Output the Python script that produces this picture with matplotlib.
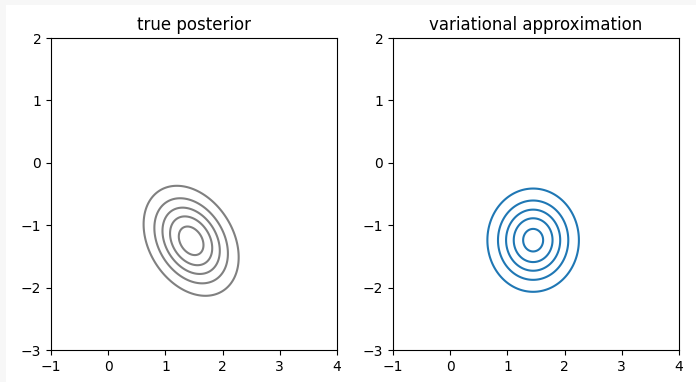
import numpy as np
import matplotlib
matplotlib.use("Agg")
import matplotlib.pyplot as plt
from matplotlib.patches import Rectangle

# values
titles = ["true posterior", "variational approximation"]
line_colors = ["gray", "tab:blue"]
true_levels = [0.14, 0.28, 0.42, 0.56, 0.70]
approx_levels = [0.15, 0.30, 0.45, 0.60, 0.75]

true_mean = [1.45, -1.25]
true_var = [0.20, 0.225]
true_corr = -0.3

approx_mean = [1.45, -1.24]
approx_sd = [0.435, 0.45]

xlim = (-1, 4)
ylim = (-3, 2)
xticks = [-1, 0, 1, 2, 3, 4]
yticks = [-3, -2, -1, 0, 1, 2]


def gauss2d(X, Y, mean, cov):
    cov = np.asarray(cov)
    inv = np.linalg.inv(cov)
    dx = X - mean[0]
    dy = Y - mean[1]
    q = inv[0, 0] * dx**2 + 2 * inv[0, 1] * dx * dy + inv[1, 1] * dy**2
    return np.exp(-0.5 * q) / (2 * np.pi * np.sqrt(np.linalg.det(cov)))


x = np.linspace(xlim[0], xlim[1], 400)
y = np.linspace(ylim[0], ylim[1], 400)
X, Y = np.meshgrid(x, y)

cxy = true_corr * np.sqrt(true_var[0] * true_var[1])
true_cov = [[true_var[0], cxy], [cxy, true_var[1]]]
approx_cov = [[approx_sd[0]**2, 0], [0, approx_sd[1]**2]]

Z = [gauss2d(X, Y, true_mean, true_cov), gauss2d(X, Y, approx_mean, approx_cov)]
levels = [true_levels, approx_levels]

fig = plt.figure(figsize=(6.96, 3.82), dpi=100)
fig.patch.set_facecolor("#f7f7f7")
fig.patches.append(Rectangle((6 / 696, 0), 1, 1 - 5 / 382, transform=fig.transFigure,
                             facecolor="white", edgecolor="none", zorder=-1))

lefts = [51 / 696, 393 / 696]
for i in range(2):
    ax = fig.add_axes([lefts[i], 32 / 382, 286 / 696, 312 / 382])
    ax.contour(X, Y, Z[i], levels=levels[i], colors=line_colors[i], linewidths=1.5)
    ax.set_xlim(*xlim)
    ax.set_ylim(*ylim)
    ax.set_xticks(xticks)
    ax.set_yticks(yticks)
    ax.set_title(titles[i])

fig.savefig("out.png", dpi=100, facecolor=fig.get_facecolor())
